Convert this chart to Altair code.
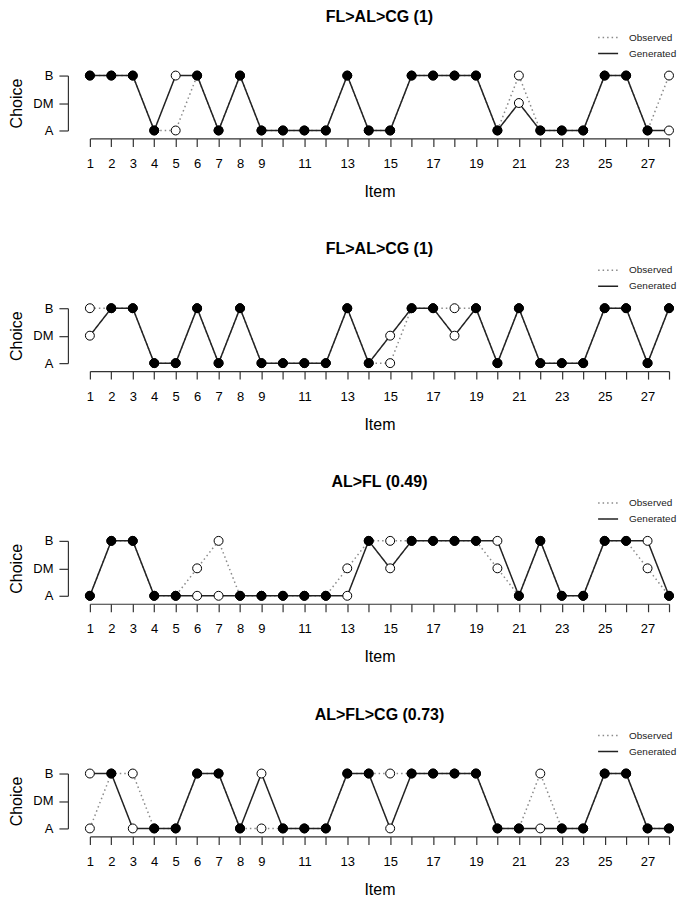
import altair as alt
import pandas as pd

items = list(range(1, 29))
titles = ["FL>AL>CG (1)", "FL>AL>CG (1)", "AL>FL (0.49)", "AL>FL>CG (0.73)"]
choices = ["A", "DM", "B"]
series_names = ["Observed", "Generated"]

generated_1 = ["B","B","B","A","B","B","A","B","A","A","A","A","B","A","A","B","B","B","B","A","DM","A","A","A","B","B","A","A"]
observed_1  = ["B","B","B","A","A","B","A","B","A","A","A","A","B","A","A","B","B","B","B","A","B","A","A","A","B","B","A","B"]

generated_2 = ["DM","B","B","A","A","B","A","B","A","A","A","A","B","A","DM","B","B","DM","B","A","B","A","A","A","B","B","A","B"]
observed_2  = ["B","B","B","A","A","B","A","B","A","A","A","A","B","A","A","B","B","B","B","A","B","A","A","A","B","B","A","B"]

generated_3 = ["A","B","B","A","A","A","A","A","A","A","A","A","A","B","DM","B","B","B","B","B","A","B","A","A","B","B","B","A"]
observed_3  = ["A","B","B","A","A","DM","B","A","A","A","A","A","DM","B","B","B","B","B","B","DM","A","B","A","A","B","B","DM","A"]

generated_4 = ["B","B","A","A","A","B","B","A","B","A","A","A","B","B","A","B","B","B","B","A","A","A","A","A","B","B","A","A"]
observed_4  = ["A","B","B","A","A","B","B","A","A","A","A","A","B","B","B","B","B","B","B","A","A","B","A","A","B","B","A","A"]

generated = [generated_1, generated_2, generated_3, generated_4]
observed = [observed_1, observed_2, observed_3, observed_4]

FONT = "Liberation Sans"
INK = "#222222"


def panel_frame(p):
    rows = []
    for i, item in enumerate(items):
        g = generated[p][i]
        o = observed[p][i]
        match = "same" if g == o else "diff"
        rows.append({"item": item, "series": "Observed", "choice": o,
                     "v": choices.index(o), "match": match})
        rows.append({"item": item, "series": "Generated", "choice": g,
                     "v": choices.index(g), "match": match})
    return pd.DataFrame(rows)


def make_panel(p):
    df = panel_frame(p)
    x = alt.X("item:Q",
              scale=alt.Scale(domain=[1, 28], nice=False, zero=False),
              axis=alt.Axis(values=items, title="Item",
                            labelExpr="datum.value < 10 || datum.value % 2 == 1 ? datum.label : ''",
                            offset=8, tickSize=8, labelPadding=11, titlePadding=13,
                            labelFlush=False, labelOverlap=False, grid=False))
    y = alt.Y("v:Q",
              scale=alt.Scale(domain=[0, 2], nice=False, zero=False),
              axis=alt.Axis(values=[0, 1, 2], title="Choice",
                            labelExpr="datum.value == 0 ? 'A' : datum.value == 1 ? 'DM' : 'B'",
                            offset=22, tickSize=9, labelPadding=6, titlePadding=8,
                            grid=False))
    leg = alt.Legend(title=None, orient="none", legendX=508, legendY=-49,
                     symbolType="stroke", symbolSize=400, symbolStrokeWidth=1.5,
                     labelFontSize=10, labelFont=FONT, labelColor=INK,
                     rowPadding=-7, padding=0, labelOffset=10)
    lines = alt.Chart(df).mark_line(strokeWidth=1.5).encode(
        x=x, y=y,
        color=alt.Color("series:N", scale=alt.Scale(domain=series_names, range=["#8a8a8a", INK]), legend=leg),
        strokeDash=alt.StrokeDash("series:N", scale=alt.Scale(domain=series_names, range=[[1.5, 3], [1, 0]]), legend=leg),
        order=alt.Order("item:Q"),
    )
    points = alt.Chart(df).mark_point(filled=False, size=80, strokeWidth=1, shape="circle", opacity=1).encode(
        x=x, y=y,
        fill=alt.Fill("match:N", scale=alt.Scale(domain=["same", "diff"], range=["black", "white"]), legend=None),
        stroke=alt.value("black"),
    )
    return alt.layer(lines, points).properties(
        width=580, height=55,
        title=alt.TitleParams(titles[p], fontSize=16, fontWeight="bold", anchor="middle",
                              frame="group", font=FONT, color="black", offset=2),
    )


chart = alt.vconcat(*[make_panel(p) for p in range(4)], spacing=42).resolve_scale(
    color="independent", strokeDash="independent"
).properties(padding=0).configure_view(stroke=None).configure_axis(
    labelFont=FONT, titleFont=FONT, labelFontSize=13, titleFontSize=16,
    titleFontWeight="normal", labelColor="black", titleColor="black",
    domainColor="#333333", tickColor="#333333", domainWidth=1.2, tickWidth=1.2,
)

chart.save("out.html", embed_options={"renderer": "svg", "actions": False})
